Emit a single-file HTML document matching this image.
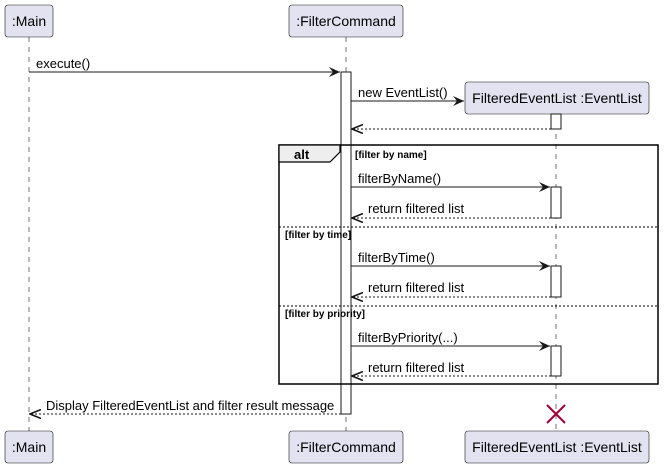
<!DOCTYPE html>
<html><head><style>html,body{margin:0;padding:0;background:#fff}svg{display:block}</style></head>
<body>
<svg width="664" height="469" xmlns="http://www.w3.org/2000/svg" font-family="Liberation Sans, sans-serif">
<defs>
<marker id="a" viewBox="0 0 12 10" refX="11" refY="5" markerWidth="12" markerHeight="10" markerUnits="userSpaceOnUse" orient="auto"><path d="M0,0 L11,5 L0,10 L4,5 Z" fill="#181818"/></marker>
<marker id="o" viewBox="0 0 12 10" refX="11" refY="5" markerWidth="12" markerHeight="10" markerUnits="userSpaceOnUse" orient="auto"><path d="M0,0.5 L11,5 L0,9.5" fill="none" stroke="#181818" stroke-width="1.6"/></marker>
</defs>
<g stroke="#181818" stroke-width="0.6" stroke-dasharray="5,5">
<line x1="29" y1="37" x2="29" y2="431"/>
<line x1="346" y1="37" x2="346" y2="431"/>
<line x1="556" y1="114" x2="556" y2="431"/>
</g>
<g fill="#E2E2F0" stroke="#181818" stroke-width="0.6">
<rect x="5" y="5" width="48" height="32" rx="3"/>
<rect x="289" y="5" width="114" height="32" rx="3"/>
<rect x="465" y="82" width="184" height="32" rx="3"/>
<rect x="5" y="431" width="48" height="32" rx="3"/>
<rect x="289" y="431" width="114" height="32" rx="3"/>
<rect x="465" y="431" width="184" height="32" rx="3"/>
</g>
<g font-size="14" fill="#000" text-anchor="middle">
<text x="29" y="26">:Main</text>
<text x="346" y="26">:FilterCommand</text>
<text x="557" y="103">FilteredEventList :EventList</text>
<text x="29" y="452">:Main</text>
<text x="346" y="452">:FilterCommand</text>
<text x="557" y="452">FilteredEventList :EventList</text>
</g>
<!-- activations -->
<g fill="#fff" stroke="#181818" stroke-width="1">
<rect x="341" y="72" width="10" height="342"/>
<rect x="551" y="114" width="10" height="15"/>
<rect x="551" y="187" width="10" height="31"/>
<rect x="551" y="266" width="10" height="31"/>
<rect x="551" y="346" width="10" height="30"/>
</g>
<!-- alt frame -->
<rect x="279" y="145" width="379" height="239" fill="none" stroke="#000" stroke-width="1.5"/>
<path d="M279,145 L340,145 L340,152 L330,162 L279,162 Z" fill="#EEEEEE" stroke="#000" stroke-width="1.2"/>
<text x="294" y="159" font-size="13" font-weight="bold">alt</text>
<g stroke="#000" stroke-width="1" stroke-dasharray="2,2"><line x1="279" y1="227" x2="658" y2="227"/><line x1="279" y1="306" x2="658" y2="306"/></g>
<g font-size="10" font-weight="bold">
<text x="355" y="158">[filter by name]</text>
<text x="285" y="238">[filter by time]</text>
<text x="285" y="317">[filter by priority]</text>
</g>
<!-- messages -->
<g stroke="#181818" stroke-width="1">
<line x1="29" y1="72" x2="340" y2="72" marker-end="url(#a)"/>
<line x1="351" y1="101" x2="464" y2="101" marker-end="url(#a)"/>
<line x1="551" y1="129" x2="352" y2="129" stroke-dasharray="2,2" marker-end="url(#o)"/>
<line x1="351" y1="187" x2="550" y2="187" marker-end="url(#a)"/>
<line x1="551" y1="218" x2="352" y2="218" stroke-dasharray="2,2" marker-end="url(#o)"/>
<line x1="351" y1="266" x2="550" y2="266" marker-end="url(#a)"/>
<line x1="551" y1="297" x2="352" y2="297" stroke-dasharray="2,2" marker-end="url(#o)"/>
<line x1="351" y1="346" x2="550" y2="346" marker-end="url(#a)"/>
<line x1="551" y1="376" x2="352" y2="376" stroke-dasharray="2,2" marker-end="url(#o)"/>
<line x1="341" y1="414" x2="30" y2="414" stroke-dasharray="2,2" marker-end="url(#o)"/>
</g>
<g font-size="13" fill="#000">
<text x="36" y="68">execute()</text>
<text x="358" y="97">new EventList()</text>
<text x="358" y="183">filterByName()</text>
<text x="368" y="213">return filtered list</text>
<text x="358" y="262">filterByTime()</text>
<text x="368" y="292">return filtered list</text>
<text x="358" y="342">filterByPriority(...)</text>
<text x="368" y="372">return filtered list</text>
<text x="46" y="410">Display FilteredEventList and filter result message</text>
</g>
<g stroke="#A80036" stroke-width="2"><line x1="547" y1="405" x2="565" y2="423"/><line x1="565" y1="405" x2="547" y2="423"/></g>
</svg>
</body></html>
